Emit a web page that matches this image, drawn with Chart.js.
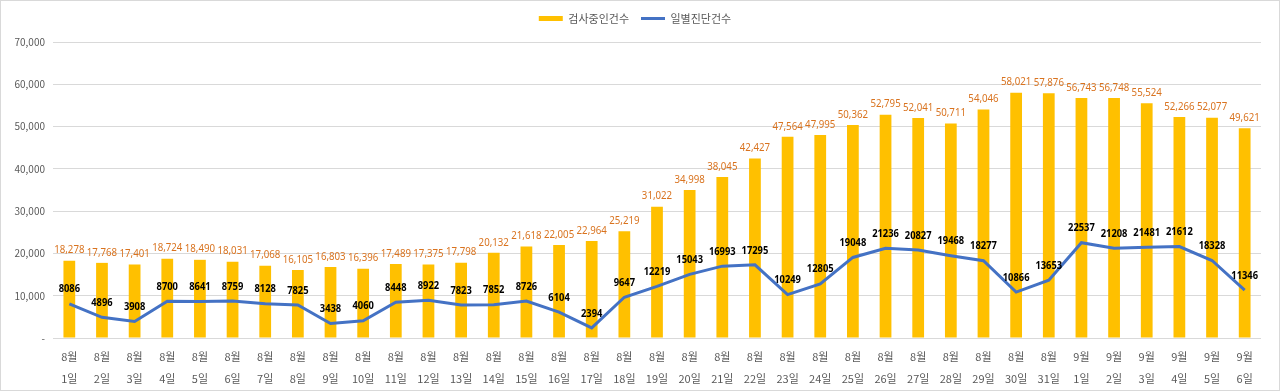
<!DOCTYPE html>
<html>
<head>
<meta charset="utf-8">
<script src="https://cdn.jsdelivr.net/npm/chart.js@4"></script>
<style>
  html, body { margin: 0; padding: 0; background: #fff; }
  #wrap { width: 1280px; height: 391px; box-sizing: border-box; border: 1px solid #d9d9d9; }
</style>
</head>
<body>
<div id="wrap"><canvas id="chart" width="1278" height="389"></canvas></div>
<script>
/* 검사중인건수 / 일별진단건수 (8월 1일 ~ 9월 6일) */
const months = [
  "8월","8월","8월","8월","8월","8월","8월","8월","8월","8월",
  "8월","8월","8월","8월","8월","8월","8월","8월","8월","8월",
  "8월","8월","8월","8월","8월","8월","8월","8월","8월","8월","8월",
  "9월","9월","9월","9월","9월","9월"
];
const days = [
  "1일","2일","3일","4일","5일","6일","7일","8일","9일","10일",
  "11일","12일","13일","14일","15일","16일","17일","18일","19일","20일",
  "21일","22일","23일","24일","25일","26일","27일","28일","29일","30일","31일",
  "1일","2일","3일","4일","5일","6일"
];
const testing = [
  18278, 17768, 17401, 18724, 18490, 18031, 17068, 16105, 16803, 16396,
  17489, 17375, 17798, 20132, 21618, 22005, 22964, 25219, 31022, 34998,
  38045, 42427, 47564, 47995, 50362, 52795, 52041, 50711, 54046, 58021, 57876,
  56743, 56748, 55524, 52266, 52077, 49621
];
const daily = [
  8086, 4896, 3908, 8700, 8641, 8759, 8128, 7825, 3438, 4060,
  8448, 8922, 7823, 7852, 8726, 6104, 2394, 9647, 12219, 15043,
  16993, 17295, 10249, 12805, 19048, 21236, 20827, 19468, 18277, 10866, 13653,
  22537, 21208, 21481, 21612, 18328, 11346
];
const yTicks = [0, 10000, 20000, 30000, 40000, 50000, 60000, 70000];

const labels = months.map((m, i) => [m, days[i]]);
const FONT = "'Noto Sans CJK KR', 'Noto Sans', sans-serif";

// 값 라벨 (원본 글꼴이 좁아서 가로로 살짝 줄여 그림)
const valueLabels = {
  id: "valueLabels",
  afterDatasetsDraw(chart) {
    const ctx = chart.ctx;
    chart.data.datasets.forEach((ds, di) => {
      const meta = chart.getDatasetMeta(di);
      meta.data.forEach((el, i) => {
        const v = ds.data[i];
        const isLine = ds.type === "line";
        ctx.save();
        ctx.translate(el.x, el.y - (isLine ? 9 : 5));
        ctx.scale(isLine ? 0.85 : 0.88, 1);
        ctx.textAlign = "center";
        ctx.textBaseline = "bottom";
        ctx.font = (isLine ? "bold 11px " : "11px ") + "'Noto Sans', sans-serif";
        ctx.fillStyle = isLine ? "#000" : "#D9731F";
        ctx.fillText(isLine ? String(v) : v.toLocaleString("en-US"), 0, 0);
        ctx.restore();
      });
    });
  }
};

new Chart(document.getElementById("chart"), {
  data: {
    labels: labels,
    datasets: [
      {
        type: "bar",
        label: "검사중인건수",
        data: testing,
        backgroundColor: "#FFC000",
        pointStyle: "rect",
        barPercentage: 0.36,
        categoryPercentage: 1,
        order: 1,
      },
      {
        type: "line",
        label: "일별진단건수",
        data: daily,
        borderColor: "#4472C4",
        backgroundColor: "#4472C4",
        borderWidth: 3,
        pointRadius: 0,
        pointStyle: "line",
        tension: 0,
        order: 0,
      },
    ],
  },
  options: {
    responsive: false,
    animation: false,
    layout: { padding: { left: 8, right: 18, top: 0, bottom: 0 } },
    plugins: {
      legend: {
        position: "top",
        labels: {
          sort: (a, b) => a.datasetIndex - b.datasetIndex,
          usePointStyle: true,
          pointStyleWidth: 24,
          boxWidth: 24,
          boxHeight: 5,
          padding: 12,
          color: "#595959",
          font: { size: 11, family: FONT },
        },
      },
      tooltip: { enabled: false },
    },
    scales: {
      x: {
        grid: { display: false },
        border: { display: false },
        ticks: {
          color: "#595959",
          padding: 0,
          font: { size: 11, family: FONT, lineHeight: 2.0 },
          maxRotation: 0,
          autoSkip: false,
        },
      },
      y: {
        min: 0,
        max: 70000,
        afterBuildTicks: (s) => { s.ticks = yTicks.map((v) => ({ value: v })); },
        afterFit: (s) => { s.width = 44; },
        grid: { color: "#D9D9D9", drawTicks: false },
        border: { display: false },
        ticks: {
          color: "#595959",
          padding: 8,
          font: { size: 10, family: FONT },
          callback: (v) => (v === 0 ? "-" : v.toLocaleString("en-US")),
        },
      },
    },
  },
  plugins: [
    valueLabels,
    {
      // 범례 아래 여백을 늘려 그림 영역 위치를 원본과 맞춤
      id: "legendGap",
      beforeInit(chart) {
        const fit = chart.legend.fit;
        chart.legend.fit = function () {
          fit.bind(chart.legend)();
          this.height += 8;
        };
      },
    },
  ],
});
</script>
</body>
</html>
